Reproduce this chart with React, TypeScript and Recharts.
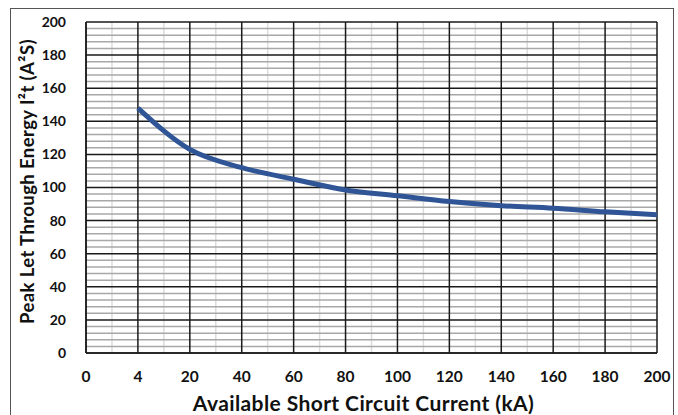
import React from 'react'
import { CartesianGrid, Line, LineChart, XAxis, YAxis, Label } from 'recharts'

const currents = ['0', '4', '20', '40', '60', '80', '100', '120', '140', '160', '180', '200']
const energy = [null, 148, 123, 112, 105, 98.5, 95, 91.5, 89, 87.5, 85.3, 83.5]
const yTicks = [0, 20, 40, 60, 80, 100, 120, 140, 160, 180, 200]
const yMinor = [4, 8, 12, 16]

const chartData = currents.map((c, i) => ({ current: c, energy: energy[i] }))

const FONT = 'Lato, "Open Sans", sans-serif'
const xTickStyle = { fontSize: 15.5, fontWeight: 700, fill: '#111', fontFamily: FONT }
const yTickStyle = { fontSize: 14, fontWeight: 700, fill: '#111', fontFamily: FONT }

// minor lines: every 4 A²s, and half-way between the categories
const minorHorizontal = ({ offset }: any) => {
  const out: number[] = []
  yTicks.slice(0, -1).forEach((t) => {
    yMinor.forEach((m) => {
      out.push(offset.top + offset.height * (1 - (t + m) / 200))
    })
  })
  return out
}
const minorVertical = ({ offset }: any) =>
  currents.slice(0, -1).map((_, i) => offset.left + (offset.width * (i + 0.5)) / (currents.length - 1))

export default function App() {
  return (
    <div style={{ position: 'absolute', left: 0, top: 0, width: 678, height: 415, background: '#fff', overflow: 'hidden' }}>
      <div style={{ position: 'absolute', left: 10, top: 8, width: 662, height: 420, border: '1px solid #555' }} />
      <LineChart width={678} height={415} data={chartData} margin={{ top: 22, right: 21, bottom: 18, left: 10 }}>
        <CartesianGrid
          horizontal={false}
          verticalCoordinatesGenerator={minorVertical}
          stroke="#dcdcdc"
          strokeWidth={1.5}
        />
        <CartesianGrid
          vertical={false}
          horizontalCoordinatesGenerator={minorHorizontal}
          stroke="#a8a8a8"
          strokeWidth={1.5}
        />
        <CartesianGrid stroke="#1a1a1a" strokeWidth={1.5} />
        <XAxis
          dataKey="current"
          scale="point"
          padding={{ left: 0, right: 0 }}
          interval={0}
          tickLine={false}
          axisLine={{ stroke: '#1a1a1a', strokeWidth: 1.5 }}
          tick={xTickStyle}
          tickMargin={12}
          height={44}
        >
          <Label
            value="Available Short Circuit Current (kA)"
            position="insideBottom"
            offset={-14}
            dx={-8}
            style={{ fontSize: 21, fontWeight: 700, fill: '#111', fontFamily: FONT, letterSpacing: 0.4 }}
          />
        </XAxis>
        <YAxis
          domain={[0, 200]}
          ticks={yTicks}
          interval={0}
          tickLine={false}
          axisLine={{ stroke: '#1a1a1a', strokeWidth: 1.5 }}
          tick={yTickStyle}
          tickMargin={14}
          width={76}
        >
          <Label
            value="Peak Let Through Energy I²t (A²S)"
            angle={-90}
            position="insideLeft"
            offset={17}
            dy={-6}
            style={{ fontSize: 18.5, fontWeight: 700, fill: '#111', fontFamily: FONT, textAnchor: 'middle', letterSpacing: 0.4 }}
          />
        </YAxis>
        <Line
          type="monotone"
          dataKey="energy"
          stroke="#2f5597"
          strokeWidth={5}
          dot={false}
          connectNulls={false}
          isAnimationActive={false}
        />
      </LineChart>
    </div>
  )
}
